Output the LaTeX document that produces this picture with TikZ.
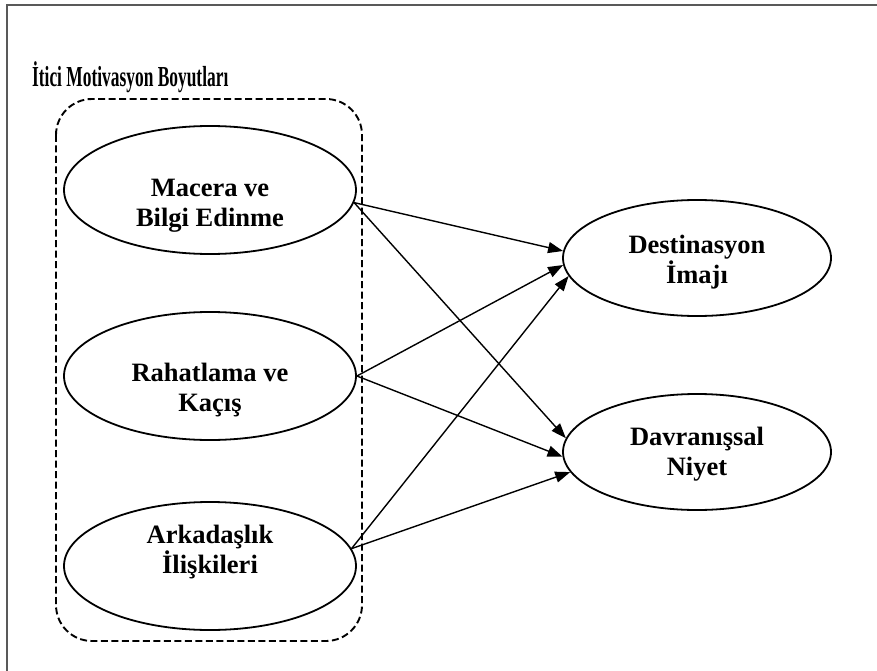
\documentclass[tikz,border=0pt]{standalone}
\usepackage{fontspec}
\setmainfont{Liberation Serif}
\usetikzlibrary{shapes.geometric,arrows.meta}

\tikzset{
  factor/.style={ellipse,draw,line width=1.8pt,inner sep=0pt,
    minimum width=292pt,minimum height=128pt},
  outcome/.style={factor,minimum width=268pt,minimum height=116pt},
  txt/.style={align=center,inner sep=0pt,
    font=\bfseries\fontsize{26.5}{30}\selectfont},
  path/.style={-{Triangle[length=15pt,width=11pt]},line width=1.4pt}
}

\begin{document}
\begin{tikzpicture}[x=1pt,y=-1pt]
  \useasboundingbox (0,0) rectangle (877,671);

  % outer frame (only top and left edges visible)
  \draw[line width=2pt,black!65] (7,671) -- (7,5) -- (877,5);

  \node[anchor=base west,inner sep=0pt,font=\bfseries\fontsize{29}{32}\selectfont,xscale=.6] (title) at (32,87) {İtici Motivasyon Boyutları};

  % push factors
  \draw[line width=1.9pt,dash pattern=on 7pt off 3.5pt,rounded corners=36pt] (56,99) rectangle (362,641);

  \node[factor] (macera)  at (210,190) {};
  \node[factor] (rahat)   at (210,376) {};
  \node[factor] (arkadas) at (210,566) {};
  \node[outcome] (imaj)   at (697,258) {};
  \node[outcome] (niyet)  at (697,452) {};

  \node[txt] (macera-t)  at (210,206) {Macera ve\\Bilgi Edinme};
  \node[txt] (rahat-t)   at (210,390) {Rahatlama ve\\Kaçış};
  \node[txt] (arkadas-t) at (210,552) {Arkadaşlık\\İlişkileri};
  \node[txt] (imaj-t)    at (697,262) {Destinasyon\\İmajı};
  \node[txt] (niyet-t)   at (697,454) {Davranışsal\\Niyet};

  \draw[path] (macera.-5)  -- (imaj.177);
  \draw[path] (macera.-5)  -- (niyet.174);
  \draw[path] (rahat.east) -- (imaj.183);
  \draw[path] (rahat.east) -- (niyet.182);
  \draw[path] (arkadas.7)  -- (imaj.188);
  \draw[path] (arkadas.7)  -- (niyet.189);

\end{tikzpicture}
\end{document}
